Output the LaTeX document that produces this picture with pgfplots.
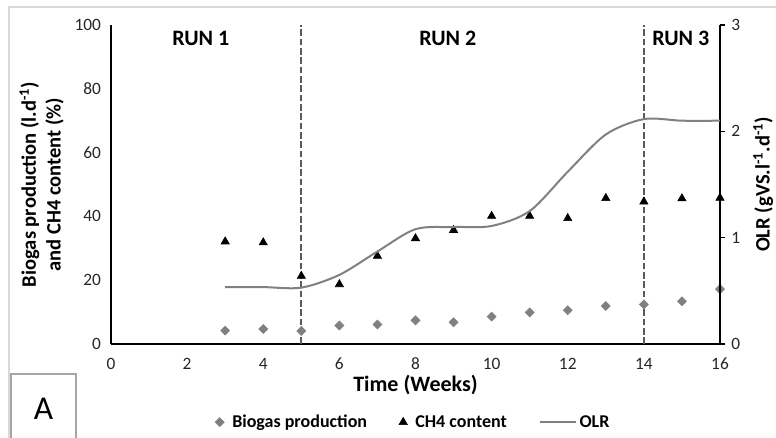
\documentclass[border=0pt]{standalone}
\usepackage{pgfplots}
\pgfplotsset{compat=1.18}
\usepackage{fontspec}
\setmainfont{Carlito}
\definecolor{dgray}{HTML}{5A5A5A}
\definecolor{mgray}{HTML}{808080}
\definecolor{frame}{HTML}{D9D9D9}
\definecolor{boxgray}{HTML}{A6A6A6}
\pgfplotsset{olrleg/.style={legend image code/.code={\draw[##1] (-2pt,0pt) -- (21pt,0pt);\draw[##1,overlay] (20pt,0pt) -- (25pt,0pt);}}}
\begin{document}
\begin{tikzpicture}
\useasboundingbox (0,0) rectangle (582pt,328.5pt);
\draw[frame, line width=0.8pt] (6.75pt,-5pt) -- (6.75pt,323.25pt) -- (590pt,323.25pt);
\begin{axis}[
  at={(83.25pt,70.5pt)}, anchor=south west,
  scale only axis, width=456.75pt, height=239.25pt,
  xmin=0, xmax=16, ymin=0, ymax=100,
  axis x line*=bottom, axis y line*=left,
  axis line style={black, line width=1.5pt, -},
  xtick={0,2,...,16}, ytick={0,20,...,100},
  major tick length=0pt,
  tick label style={font=\fontsize{13}{15}\selectfont, text=black!85},
  /pgf/number format/assume math mode=true,
  xticklabel style={yshift=-7pt},
  yticklabel style={xshift=-4pt},
  xlabel={\bfseries Time (Weeks)},
  xlabel style={font=\fontsize{16.5}{19}\selectfont, at={(axis description cs:0.5,-0.127)}, anchor=center},
  ylabel={\bfseries Biogas production (l.d\textsuperscript{-1})\\\bfseries and CH4 content (\%)},
  ylabel style={font=\fontsize{15.4}{18.5}\selectfont, align=center, at={(axis description cs:-0.07,0.5)}, anchor=south},
  clip=false,
]
\addplot[dgray, line width=1.6pt, dash pattern=on 5pt off 2pt] coordinates {(5,0) (5,100)};
\addplot[dgray, line width=1.6pt, dash pattern=on 5pt off 2pt] coordinates {(14,0) (14,100)};
\addplot[only marks, mark=square*, mark size=2.4pt, mark options={rotate=45, fill=mgray, draw=mgray}] coordinates {
(3,4.2) (4,4.7) (5,4.1) (6,5.8) (7,6.1) (8,7.4) (9,6.8) (10,8.6) (11,9.9) (12,10.6) (13,11.9) (14,12.4) (15,13.4) (16,17.2)};
\addplot[only marks, mark=triangle*, mark size=3.6pt, mark options={fill=black, draw=black}] coordinates {
(3,32.1) (4,31.8) (5,21.3) (6,18.7) (7,27.6) (8,33.1) (9,35.7) (10,40.1) (11,40.1) (12,39.4) (13,45.7) (14,44.6) (15,45.6) (16,45.8)};
\node[font=\bfseries\fontsize{16.5}{19}\selectfont] at (axis cs:2.36,95.9) {RUN 1};
\node[font=\bfseries\fontsize{16.5}{19}\selectfont] at (axis cs:8.85,95.9) {RUN 2};
\node[font=\bfseries\fontsize{16.5}{19}\selectfont] at (axis cs:14.97,95.9) {RUN 3};
\end{axis}
\begin{axis}[
  at={(83.25pt,70.5pt)}, anchor=south west,
  scale only axis, width=456.75pt, height=239.25pt,
  xmin=0, xmax=16, ymin=0, ymax=3,
  axis x line=none, axis y line*=right,
  axis line style={black, line width=1.5pt, -},
  ytick={0,1,2,3},
  tick align=outside, major tick length=4pt,
  every tick/.style={black, line width=0.8pt},
  tick label style={font=\fontsize{13}{15}\selectfont, text=black!85},
  /pgf/number format/assume math mode=true,
  yticklabel style={xshift=1pt},
  ylabel={\bfseries OLR (gVS.l\textsuperscript{-1}.d\textsuperscript{-1})},
  ylabel style={font=\fontsize{15.4}{18}\selectfont, at={(axis description cs:1.047,0.5)}, anchor=north},
  legend style={at={(axis description cs:0.497,-0.245)}, anchor=center, draw=none,
    font=\bfseries\fontsize{13.5}{15}\selectfont,
    /tikz/every odd column/.append style={column sep=4pt},
    /tikz/every even column/.append style={column sep=22pt}},
  legend columns=3,
  clip=false,
]
\addlegendimage{only marks, mark=square*, mark size=2.4pt, mark options={rotate=45, fill=mgray, draw=mgray}}
\addlegendentry{Biogas production}
\addlegendimage{only marks, mark=triangle*, mark size=3.6pt, mark options={fill=black, draw=black}}
\addlegendentry{CH4 content}
\addplot[mgray, line width=1.5pt, smooth, no markers, olrleg] coordinates {
(3,0.535) (4,0.535) (5,0.53) (6,0.65) (7,0.87) (8,1.08) (9,1.10) (10,1.11) (11,1.25) (12,1.62) (13,1.97) (14,2.115) (15,2.10) (16,2.10)};
\addlegendentry{OLR}
\end{axis}
\draw[boxgray, line width=1pt, fill=white] (8.25pt,-5pt) rectangle (57pt,48pt);
\node[font=\fontsize{25}{28}\selectfont] at (32.6pt,22pt) {A};
\end{tikzpicture}
\end{document}
